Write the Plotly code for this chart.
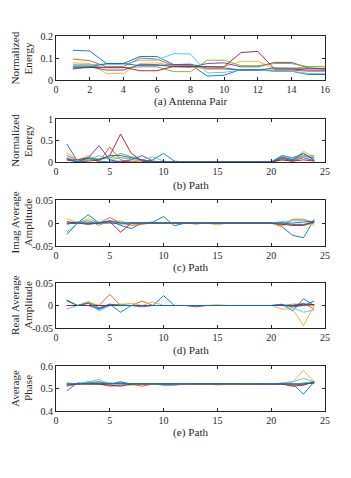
import plotly.graph_objects as go

# MATLAB default line colours
COLORS = ["#0072BD", "#D95319", "#EDB120", "#7E2F8E", "#77AC30", "#4DBEEE", "#A2142F"]

# (a) normalized energy per antenna pair, x = 1..16
pair_x = list(range(1, 17))
energy_pair = [
    [0.135, 0.132, 0.075, 0.075, 0.107, 0.107, 0.070, 0.070, 0.018, 0.022, 0.048, 0.048, 0.040, 0.040, 0.025, 0.025],
    [0.095, 0.088, 0.060, 0.060, 0.100, 0.095, 0.065, 0.065, 0.050, 0.050, 0.045, 0.045, 0.045, 0.045, 0.040, 0.040],
    [0.078, 0.075, 0.030, 0.030, 0.075, 0.078, 0.065, 0.060, 0.050, 0.060, 0.085, 0.085, 0.050, 0.050, 0.062, 0.062],
    [0.050, 0.060, 0.045, 0.045, 0.070, 0.070, 0.060, 0.058, 0.075, 0.078, 0.060, 0.060, 0.080, 0.080, 0.055, 0.050],
    [0.065, 0.065, 0.055, 0.055, 0.060, 0.060, 0.038, 0.038, 0.090, 0.090, 0.065, 0.065, 0.075, 0.075, 0.060, 0.060],
    [0.070, 0.070, 0.070, 0.070, 0.090, 0.090, 0.120, 0.118, 0.032, 0.035, 0.045, 0.045, 0.040, 0.040, 0.030, 0.030],
    [0.055, 0.058, 0.058, 0.058, 0.042, 0.042, 0.062, 0.062, 0.060, 0.060, 0.125, 0.130, 0.050, 0.050, 0.045, 0.045],
    [0.060, 0.060, 0.075, 0.075, 0.065, 0.065, 0.070, 0.072, 0.055, 0.055, 0.045, 0.045, 0.055, 0.055, 0.052, 0.052],
]

# (b)-(e) per path, x = 1..24
path_x = list(range(1, 25))
energy_path = [
    [0.42, 0.02, 0.08, 0.02, 0.00, 0.02, 0.00, 0.00, 0.05, 0.20, 0.02, 0.00, 0, 0, 0, 0, 0, 0, 0, 0, 0.15, 0.10, 0.20, 0.05],
    [0.15, 0.05, 0.10, 0.00, 0.35, 0.05, 0.00, 0.05, 0.00, 0.00, 0.00, 0.00, 0, 0, 0, 0, 0, 0, 0, 0, 0.10, 0.05, 0.15, 0.10],
    [0.22, 0.05, 0.15, 0.05, 0.10, 0.10, 0.05, 0.02, 0.00, 0.00, 0.00, 0.00, 0, 0, 0, 0, 0, 0, 0, 0, 0.12, 0.05, 0.25, 0.12],
    [0.07, 0.05, 0.10, 0.38, 0.05, 0.00, 0.05, 0.15, 0.02, 0.00, 0.00, 0.00, 0, 0, 0, 0, 0, 0, 0, 0, 0.08, 0.03, 0.10, 0.03],
    [0.05, 0.02, 0.05, 0.08, 0.10, 0.20, 0.12, 0.05, 0.00, 0.00, 0.00, 0.00, 0, 0, 0, 0, 0, 0, 0, 0, 0.05, 0.02, 0.12, 0.15],
    [0.10, 0.02, 0.05, 0.15, 0.05, 0.10, 0.08, 0.05, 0.12, 0.02, 0.00, 0.00, 0, 0, 0, 0, 0, 0, 0, 0, 0.15, 0.08, 0.15, 0.05],
    [0.05, 0.00, 0.02, 0.05, 0.15, 0.65, 0.20, 0.02, 0.00, 0.00, 0.00, 0.00, 0, 0, 0, 0, 0, 0, 0, 0, 0.05, 0.02, 0.05, 0.02],
    [0.08, 0.00, 0.10, 0.05, 0.15, 0.15, 0.10, 0.05, 0.00, 0.00, 0.00, 0.00, 0, 0, 0, 0, 0, 0, 0, 0, 0.12, 0.05, 0.20, 0.05],
]

imag_amp = [
    [-0.025, 0.000, 0.018, 0.000, 0.005, -0.005, -0.012, 0.000, 0.002, 0.014, -0.006, 0, 0, 0, 0, 0, 0, 0, 0, 0, -0.008, -0.027, -0.032, 0.008],
    [0.000, 0.000, 0.000, 0.000, 0.012, 0.000, -0.005, -0.003, 0.000, 0.000, 0.000, 0, 0, 0, 0, 0, 0, 0, 0, 0, -0.005, 0.008, 0.008, 0.000],
    [0.010, 0.000, 0.010, 0.000, 0.000, 0.005, -0.005, 0.000, 0.000, 0.000, 0.000, 0, 0, 0, -0.004, 0, 0, 0, 0, 0, -0.008, 0.008, 0.008, -0.006],
    [-0.002, 0.000, -0.003, 0.000, 0.000, -0.002, 0.000, 0.000, 0.000, 0.000, 0.000, 0, -0.002, 0, 0, 0, 0, 0, 0, 0, 0.000, -0.003, -0.003, 0.002],
    [0.000, 0.002, 0.005, -0.005, 0.005, 0.002, 0.000, 0.000, 0.000, 0.000, 0.000, 0, 0, 0, 0, 0, 0, 0, 0, 0, 0.000, -0.005, -0.005, 0.000],
    [-0.020, 0.000, 0.005, 0.002, 0.002, 0.000, 0.000, 0.000, 0.000, 0.000, 0.000, 0, 0, 0, 0, 0.001, 0, 0, 0, 0, 0.003, 0.005, 0.005, 0.003],
    [0.003, 0.000, 0.000, 0.000, 0.003, -0.020, 0.000, 0.000, 0.000, 0.000, 0.000, 0, 0, 0, 0, 0, 0, 0, 0, 0, -0.003, -0.005, -0.005, 0.003],
    [-0.002, 0.000, -0.002, 0.000, 0.004, 0.000, 0.000, 0.000, 0.000, 0.000, 0.000, 0, 0, 0, 0, 0, 0, 0, 0, 0, 0.000, 0.000, 0.002, 0.004],
]

real_amp = [
    [0.012, 0.000, 0.008, -0.005, 0.003, -0.015, 0.000, 0.000, 0.000, 0.022, 0.000, 0, 0, 0, 0, 0, 0, 0, 0, 0, 0.003, -0.012, 0.015, 0.000],
    [0.000, 0.000, 0.000, 0.000, 0.025, 0.000, 0.000, 0.010, 0.000, 0.000, 0.000, 0, 0, 0, 0, 0, 0, 0, 0, 0, 0.000, 0.000, 0.005, -0.008],
    [0.010, 0.000, 0.008, 0.000, 0.000, 0.003, 0.005, 0.000, 0.008, 0.000, 0.000, 0, 0, 0, 0.002, 0, 0, 0, 0, 0, -0.008, -0.008, -0.045, 0.000],
    [0.000, 0.000, 0.000, -0.008, 0.000, 0.000, 0.000, -0.003, 0.000, 0.000, 0.000, 0, -0.003, 0, 0, 0, 0, 0, 0, 0, 0.000, 0.000, 0.000, 0.002],
    [0.010, 0.000, 0.005, 0.000, 0.000, 0.003, 0.000, 0.000, 0.000, 0.000, 0.000, 0, 0, 0, 0, 0, 0, 0, 0, 0, 0.000, 0.003, 0.003, 0.000],
    [-0.008, 0.000, 0.005, -0.012, 0.000, 0.000, 0.000, 0.000, 0.000, 0.000, 0.000, 0, 0, 0, 0, 0, 0, 0, 0, 0, 0.000, -0.005, -0.015, -0.010],
    [0.000, 0.000, 0.000, 0.000, 0.000, 0.000, 0.000, 0.000, 0.000, 0.000, 0.000, 0, 0, 0, 0, 0, 0, 0, 0, 0, 0.000, 0.000, 0.003, 0.002],
    [0.012, 0.000, 0.005, -0.008, 0.003, 0.000, 0.000, 0.000, 0.000, 0.000, 0.000, 0, 0, 0, 0, 0, 0, 0, 0, 0, 0.002, -0.003, 0.000, 0.010],
]

avg_phase = [
    [0.490, 0.525, 0.520, 0.520, 0.520, 0.530, 0.520, 0.520, 0.520, 0.515, 0.515, 0.520, 0.520, 0.520, 0.520, 0.520, 0.520, 0.520, 0.520, 0.520, 0.520, 0.520, 0.475, 0.530],
    [0.510, 0.520, 0.520, 0.520, 0.510, 0.515, 0.520, 0.510, 0.520, 0.520, 0.520, 0.520, 0.520, 0.520, 0.520, 0.520, 0.520, 0.520, 0.520, 0.520, 0.520, 0.515, 0.520, 0.525],
    [0.520, 0.520, 0.520, 0.525, 0.520, 0.520, 0.520, 0.520, 0.520, 0.520, 0.520, 0.520, 0.520, 0.520, 0.515, 0.520, 0.520, 0.520, 0.520, 0.520, 0.520, 0.530, 0.580, 0.530],
    [0.520, 0.520, 0.525, 0.530, 0.520, 0.525, 0.520, 0.520, 0.520, 0.520, 0.520, 0.520, 0.522, 0.520, 0.520, 0.520, 0.520, 0.520, 0.520, 0.520, 0.520, 0.520, 0.520, 0.525],
    [0.525, 0.520, 0.530, 0.525, 0.525, 0.520, 0.515, 0.520, 0.520, 0.520, 0.520, 0.520, 0.520, 0.520, 0.520, 0.520, 0.520, 0.520, 0.520, 0.520, 0.520, 0.515, 0.525, 0.530],
    [0.520, 0.520, 0.530, 0.540, 0.520, 0.520, 0.520, 0.520, 0.520, 0.520, 0.520, 0.520, 0.520, 0.520, 0.520, 0.520, 0.520, 0.520, 0.520, 0.520, 0.525, 0.530, 0.545, 0.530],
    [0.515, 0.520, 0.520, 0.520, 0.515, 0.510, 0.520, 0.520, 0.520, 0.520, 0.520, 0.520, 0.520, 0.520, 0.520, 0.520, 0.520, 0.520, 0.520, 0.520, 0.520, 0.510, 0.515, 0.530],
    [0.520, 0.522, 0.522, 0.522, 0.522, 0.522, 0.522, 0.522, 0.522, 0.522, 0.522, 0.522, 0.522, 0.522, 0.522, 0.522, 0.522, 0.522, 0.522, 0.522, 0.522, 0.522, 0.520, 0.525],
]

# the page body has an 8px default margin, so the figure starts at (8, 8)
OFF = 8
W, H = 351 - 2 * OFF, 478 - 2 * OFF
PLOT_L, PLOT_R = 56 - OFF, 325 - OFF
AXIS = "#262626"
FONT = "Liberation Serif, Times New Roman, serif"

# (series, x, y range, y ticks, y tick labels, x range, x ticks, y title lines, x title, top, bottom, x-title y)
# pixel positions are measured on the 351x478 page
panels = [
    (energy_pair, pair_x, [0, 0.2], [0, 0.1, 0.2], ["0", "0.1", "0.2"], [0, 16], list(range(0, 17, 2)),
     ["Normalized", "Energy"], "(a) Antenna Pair", 36, 80, 101),
    (energy_path, path_x, [0, 1], [0, 0.5, 1], ["0", "0.5", "1"], [0, 25], list(range(0, 26, 5)),
     ["Normalized", "Energy"], "(b) Path", 119, 162, 185),
    (imag_amp, path_x, [-0.05, 0.05], [-0.05, 0, 0.05], ["-0.05", "0", "0.05"], [0, 25], list(range(0, 26, 5)),
     ["Imag Average", "Amplitude"], "(c) Path", 200, 246, 267),
    (real_amp, path_x, [-0.05, 0.05], [-0.05, 0, 0.05], ["-0.05", "0", "0.05"], [0, 25], list(range(0, 26, 5)),
     ["Real Average", "Amplitude"], "(d) Path", 283, 328, 350),
    (avg_phase, path_x, [0.4, 0.6], [0.4, 0.5, 0.6], ["0.4", "0.5", "0.6"], [0, 25], list(range(0, 26, 5)),
     ["Average", "Phase"], "(e) Path", 366, 411, 432),
]
YTITLE_X = [14.5, 27.5]  # page x of the two rotated title lines

fig = go.Figure()
layout = {}
notes = []
title_font = dict(family=FONT, size=11.2, color=AXIS)
for i, (series, xs, yr, yt, ytl, xr, xt, ytitle, xtitle, top, bot, xtitle_y) in enumerate(panels):
    n = "" if i == 0 else str(i + 1)
    top, bot, xtitle_y = top - OFF, bot - OFF, xtitle_y - OFF
    for k, ys in enumerate(series):
        fig.add_trace(go.Scatter(
            x=xs, y=ys, mode="lines", xaxis="x" + n, yaxis="y" + n,
            line=dict(color=COLORS[k % len(COLORS)], width=0.9), showlegend=False,
        ))
    common = dict(showline=True, linecolor=AXIS, linewidth=0.8, mirror="ticks", ticks="inside",
                  ticklen=3, tickcolor=AXIS, showgrid=False, zeroline=False, automargin=False,
                  tickfont=dict(family=FONT, size=10, color=AXIS))
    layout["xaxis" + n] = dict(common, domain=[PLOT_L / W, PLOT_R / W], range=xr, tickvals=xt,
                               anchor="y" + n)
    layout["yaxis" + n] = dict(common, domain=[1 - bot / H, 1 - top / H], range=yr, tickvals=yt,
                               ticktext=ytl, anchor="x" + n)
    # axis titles placed as annotations for exact positioning
    notes.append(dict(text=xtitle, xref="paper", yref="paper", x=(PLOT_L + PLOT_R) / 2 / W,
                      y=1 - xtitle_y / H, xanchor="center", yanchor="middle",
                      showarrow=False, font=title_font))
    for line, px in zip(ytitle, YTITLE_X):
        notes.append(dict(text=line, xref="paper", yref="paper", x=(px - OFF) / W,
                          y=1 - (top + bot) / 2 / H, xanchor="center", yanchor="middle",
                          textangle=-90, borderpad=0, showarrow=False, font=title_font))

fig.update_layout(
    width=W, height=H, margin=dict(l=0, r=0, t=0, b=0),
    paper_bgcolor="white", plot_bgcolor="white",
    font=dict(family=FONT, color=AXIS), annotations=notes, **layout,
)

fig.write_html("out.html")
